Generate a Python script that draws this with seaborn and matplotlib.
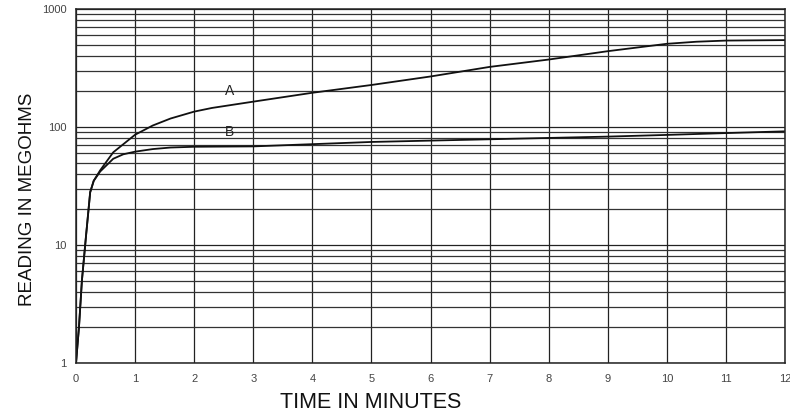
import numpy as np
import pandas as pd
import seaborn as sns
import matplotlib.pyplot as plt
from matplotlib.ticker import FixedLocator, LogLocator, NullFormatter

# ── data ────────────────────────────────────────────────
time_a = [0, 0.05, 0.10, 0.17, 0.24, 0.30, 0.41, 0.63, 1.0, 1.3, 1.6, 2.0, 2.3,
          3.0, 4.0, 5.0, 6.0, 7.0, 8.0, 9.0, 10.0, 10.5, 11.0, 12.0]
meg_a = [1, 2, 5, 12, 28, 35, 43, 61, 86, 103, 118, 135, 145,
         164, 195, 227, 268, 323, 373, 439, 507, 528, 540, 545]

time_b = [0, 0.05, 0.10, 0.17, 0.24, 0.30, 0.41, 0.63, 0.8, 1.0, 1.3, 1.6, 2.0,
          3.0, 5.0, 7.0, 9.0, 10.0, 11.0, 12.0]
meg_b = [1, 2, 5, 12, 28, 35, 42, 53.8, 58.7, 61.8, 65, 67, 68,
         68.5, 74.7, 78.7, 82.9, 85.7, 88.8, 91.9]

x_ticks = list(range(0, 13))
y_ticks = [1, 10, 100, 1000]
y_tick_labels = ["1", "10", "100", "1000"]

df_a = pd.DataFrame({"time": time_a, "megohms": meg_a})
df_b = pd.DataFrame({"time": time_b, "megohms": meg_b})

# ── style ────────────────────────────────────────────────
sns.set_style("white")
plt.rcParams['font.family'] = ['Liberation Sans', 'DejaVu Sans']

fig = plt.figure(figsize=(7.9, 4.17), dpi=100)
ax = fig.add_axes([76 / 790, 54 / 417, 709 / 790, 354 / 417])

sns.lineplot(data=df_a, x="time", y="megohms", ax=ax, color="#111111",
             linewidth=1.3, estimator=None, sort=False)
sns.lineplot(data=df_b, x="time", y="megohms", ax=ax, color="#111111",
             linewidth=1.3, estimator=None, sort=False)

ax.set_yscale("log")
ax.set_xlim(0, 12)
ax.set_ylim(1, 1000)

# grid: every minute, and every log minor step
ax.xaxis.set_major_locator(FixedLocator(x_ticks))
ax.set_xticklabels([str(t) for t in x_ticks])
ax.yaxis.set_major_locator(FixedLocator(y_ticks))
ax.set_yticklabels(y_tick_labels)
ax.yaxis.set_minor_locator(LogLocator(base=10, subs=np.arange(2, 10)))
ax.yaxis.set_minor_formatter(NullFormatter())

ax.grid(True, which="major", axis="both", color="#222222", linewidth=0.9)
ax.grid(True, which="minor", axis="y", color="#333333", linewidth=0.9)
ax.set_axisbelow(True)

for s in ax.spines.values():
    s.set_color("#222222")
    s.set_linewidth(1.1)

ax.tick_params(axis="both", which="both", length=0, labelsize=8,
               labelcolor="#444444")
ax.tick_params(axis="x", pad=8)
ax.tick_params(axis="y", pad=7)

ax.text(2.6, 200, "A", fontsize=10, ha="center", va="center", color="#222222")
ax.text(2.6, 91, "B", fontsize=10, ha="center", va="center", color="#222222")

ax.set_xlabel("")
ax.set_ylabel("")
fig.text(371 / 790, 1 - 402 / 417, "TIME IN MINUTES", fontsize=15.5,
         ha="center", va="center", color="#111111")
fig.text(28 / 790, 1 - 199 / 417, "READING IN MEGOHMS", fontsize=13.5,
         rotation=90, ha="center", va="center", color="#111111")

fig.savefig("out.png", dpi=100, facecolor="white")
